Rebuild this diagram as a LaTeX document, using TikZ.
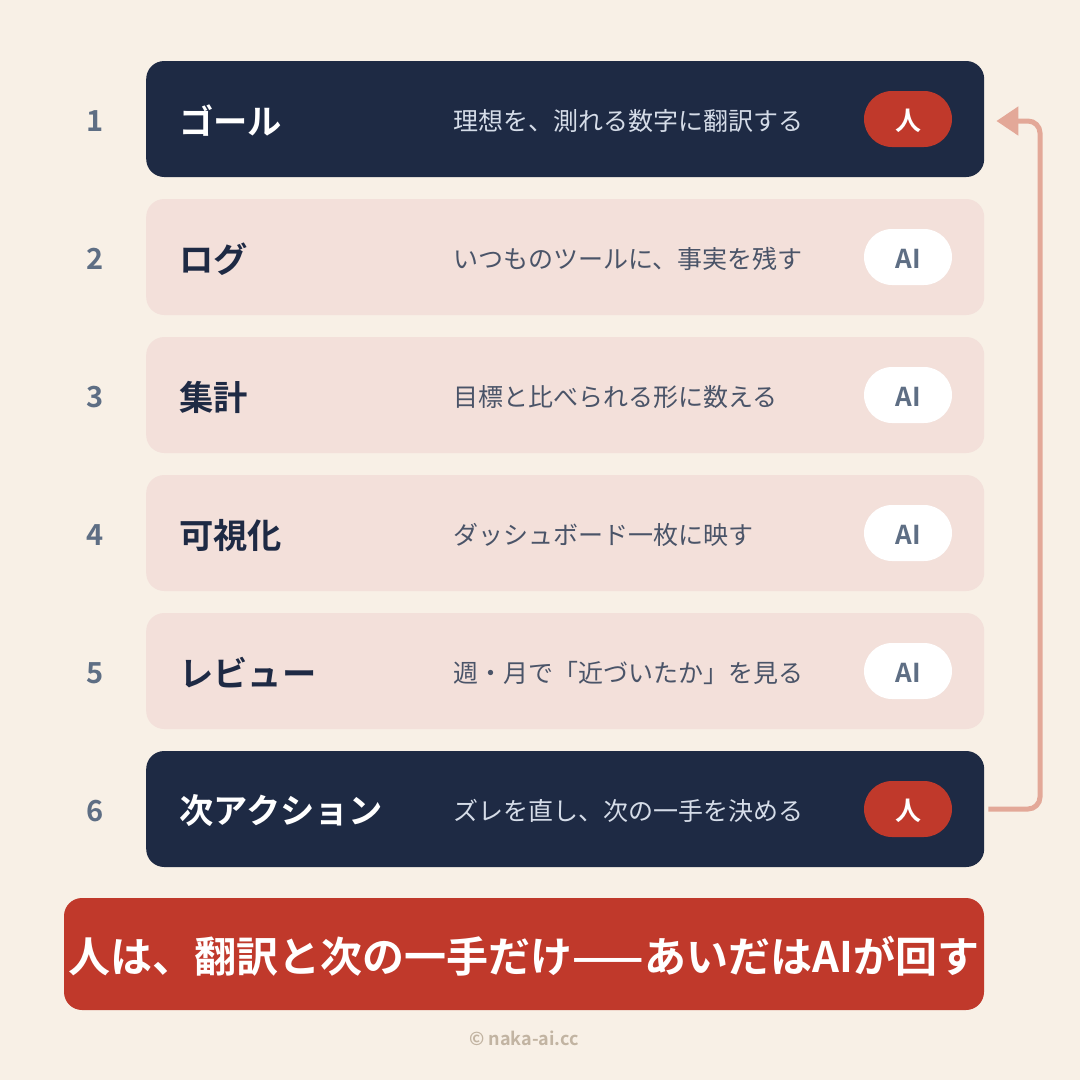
\documentclass[tikz,border=0pt]{standalone}
\usepackage{fontspec}
\setmainfont{Noto Sans CJK JP}[BoldFont={* Bold}]
\usetikzlibrary{arrows.meta}
\definecolor{bg}{HTML}{F8F0E6}
\definecolor{navy}{HTML}{1E2A44}
\definecolor{pinkc}{HTML}{F3E0DA}
\definecolor{redc}{HTML}{C0392B}
\definecolor{slate}{HTML}{5E6E84}
\definecolor{desclight}{HTML}{D5DCE8}
\definecolor{descdark}{HTML}{4A5468}
\definecolor{arrowc}{HTML}{E3A898}
\definecolor{footc}{HTML}{C2B4A2}
\begin{document}
\begin{tikzpicture}[x=1pt,y=-1pt,
  card/.style={rounded corners=18pt, minimum width=838pt, minimum height=116pt, inner sep=0pt, anchor=west},
  darkcard/.style={card, fill=navy},
  lightcard/.style={card, fill=pinkc},
  num/.style={font=\bfseries\fontsize{29}{29}\selectfont, text=slate},
  title/.style={font=\bfseries\fontsize{34.3}{34.3}\selectfont, anchor=west, inner sep=0pt},
  desc/.style={font=\fontsize{25}{25}\selectfont, anchor=west, inner sep=0pt},
  badge/.style={rounded corners=28pt, minimum width=88pt, minimum height=56pt, inner sep=0pt, font=\bfseries\fontsize{26}{26}\selectfont},
  hbadge/.style={badge, fill=redc, text=white},
  abadge/.style={badge, fill=white, text=slate},
  btext/.style={font=\bfseries\fontsize{26}{26}\selectfont, inner sep=0pt},
]
\fill[bg] (0,0) rectangle (1080,1080);
\useasboundingbox (0,0) rectangle (1080,1080);

% row 1
\node[num] (n1) at (95,121) {1};
\node[darkcard] (c1) at (146,119) {};
\node[title, text=white] (t1) at (179,121) {ゴール};
\node[desc, text=desclight] (d1) at (453,121) {理想を、測れる数字に翻訳する};
\node[hbadge] (b1) at (908,119) {};
\node[btext, text=white] (bl1) at (908,121) {人};
% row 2
\node[num] (n2) at (95,259) {2};
\node[lightcard] (c2) at (146,257) {};
\node[title, text=navy] (t2) at (179,259) {ログ};
\node[desc, text=descdark] (d2) at (453,259) {いつものツールに、事実を残す};
\node[abadge] (b2) at (908,257) {};
\node[btext, text=slate] (bl2) at (908,259) {AI};
% row 3
\node[num] (n3) at (95,397) {3};
\node[lightcard] (c3) at (146,395) {};
\node[title, text=navy] (t3) at (179,397) {集計};
\node[desc, text=descdark] (d3) at (453,397) {目標と比べられる形に数える};
\node[abadge] (b3) at (908,395) {};
\node[btext, text=slate] (bl3) at (908,397) {AI};
% row 4
\node[num] (n4) at (95,535) {4};
\node[lightcard] (c4) at (146,533) {};
\node[title, text=navy] (t4) at (179,535) {可視化};
\node[desc, text=descdark] (d4) at (453,535) {ダッシュボード一枚に映す};
\node[abadge] (b4) at (908,533) {};
\node[btext, text=slate] (bl4) at (908,535) {AI};
% row 5
\node[num] (n5) at (95,673) {5};
\node[lightcard] (c5) at (146,671) {};
\node[title, text=navy] (t5) at (179,673) {レビュー};
\node[desc, text=descdark] (d5) at (453,673) {週・月で「近づいたか」を見る};
\node[abadge] (b5) at (908,671) {};
\node[btext, text=slate] (bl5) at (908,673) {AI};
% row 6
\node[num] (n6) at (95,811) {6};
\node[darkcard] (c6) at (146,809) {};
\node[title, text=white] (t6) at (179,811) {次アクション};
\node[desc, text=desclight] (d6) at (453,811) {ズレを直し、次の一手を決める};
\node[hbadge] (b6) at (908,809) {};
\node[btext, text=white] (bl6) at (908,811) {人};

% loop arrow
\coordinate (s) at ([xshift=4pt]c6.east);
\coordinate (e) at ([xshift=12pt]c1.east);
\draw[arrowc, line width=5pt, rounded corners=12pt, -{Triangle[width=28pt,length=22pt]}]
  (s) -- (1040,809) -- (1040,121) -- ([xshift=-2pt]e |- 0,121) -- (e |- 0,121);

% banner
\node[fill=redc, rounded corners=18pt, minimum width=920pt, minimum height=112pt, inner sep=0pt] (ban) at (524,954) {};
\node[font=\bfseries\fontsize{42}{42}\selectfont, text=white, inner sep=0pt] (bt) at (524,956) {人は、翻訳と次の一手だけ——あいだはAIが回す};

\node[font=\bfseries\fontsize{18}{18}\selectfont, text=footc] (foot) at (524,1038) {© naka-ai.cc};
\end{tikzpicture}
\end{document}
